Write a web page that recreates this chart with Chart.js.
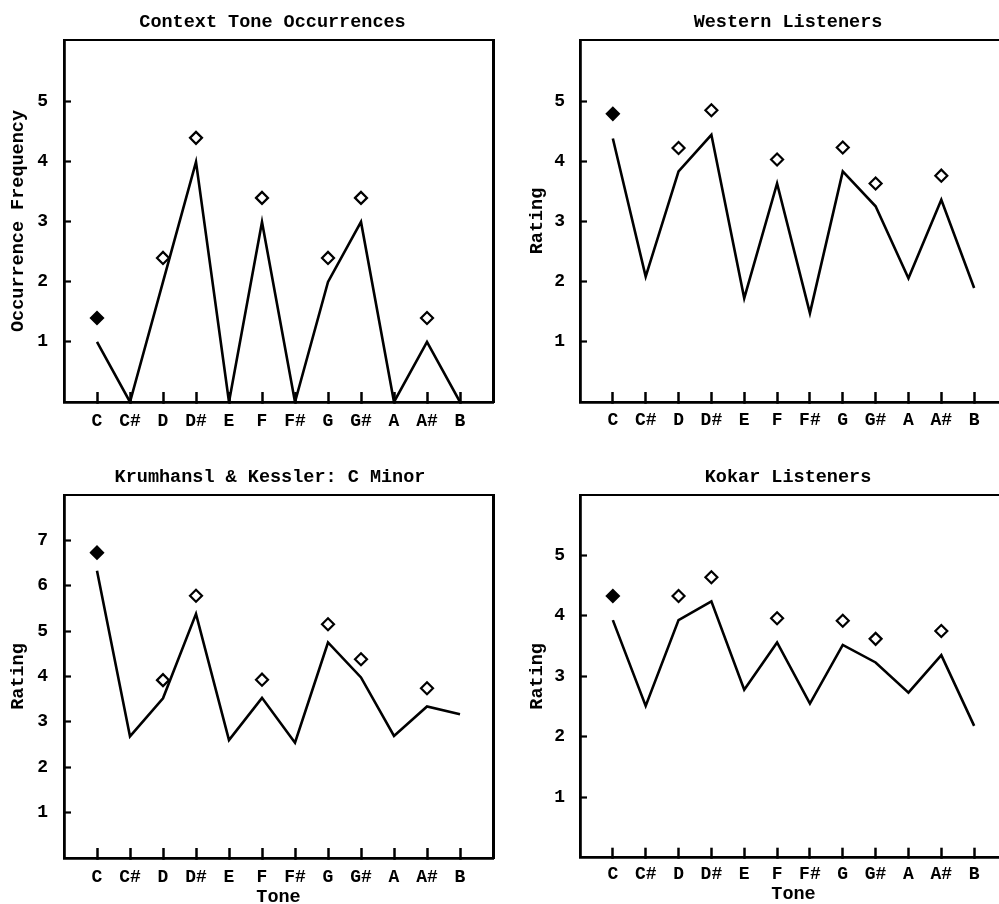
<!DOCTYPE html>
<html><head><meta charset="utf-8">
<script src="https://cdn.jsdelivr.net/npm/chart.js@4"></script>
<style>
html,body{margin:0;padding:0;background:#fff;overflow:hidden}
#wrap{position:relative;width:999px;height:904px;overflow:hidden;background:#fff}
canvas{position:absolute;display:block}
</style></head><body>
<div id="wrap">
<canvas id="c1" width="545" height="440" style="left:0;top:0"></canvas>
<canvas id="c2" width="576" height="440" style="left:500px;top:0"></canvas>
<canvas id="c3" width="540" height="460" style="left:0;top:455px"></canvas>
<canvas id="c4" width="576" height="460" style="left:500px;top:455px"></canvas>
</div>
<script>
// ---- data ----
const tones = ['C','C#','D','D#','E','F','F#','G','G#','A','A#','B'];

const occurrenceValues = [1, 0, 2, 4, 0, 3, 0, 2, 3, 0, 1, 0];
const occurrenceMarks  = [1.4, null, 2.4, 4.4, null, 3.4, null, 2.4, 3.4, null, 1.4, null];

const westernValues = [4.39, 2.09, 3.84, 4.45, 1.73, 3.64, 1.48, 3.84, 3.26, 2.06, 3.37, 1.90];
const westernMarks  = [4.80, null, 4.23, 4.86, null, 4.04, null, 4.24, 3.64, null, 3.77, null];

const kkMinorValues = [6.33, 2.68, 3.52, 5.38, 2.60, 3.53, 2.54, 4.75, 3.98, 2.69, 3.34, 3.17];
const kkMinorMarks  = [6.73, null, 3.92, 5.78, null, 3.93, null, 5.15, 4.38, null, 3.74, null];

const kokarValues = [3.93, 2.51, 3.93, 4.24, 2.78, 3.56, 2.55, 3.52, 3.23, 2.73, 3.35, 2.18];
const kokarMarks  = [4.33, null, 4.33, 4.64, null, 3.96, null, 3.92, 3.62, null, 3.75, null];

const yTicksSix   = [1, 2, 3, 4, 5];
const yTicksEight = [1, 2, 3, 4, 5, 6, 7];

// ---- styling ----
const FONT = '"Liberation Mono", "DejaVu Sans Mono", monospace';
const fnt = (size) => ({family: FONT, size: size, weight: 'bold', lineHeight: 1.2});

function makeChart(id, c) {
  const markPts = [];
  const markBg = [];
  c.marks.forEach((v, i) => {
    if (v !== null) { markPts.push({x: i, y: v}); markBg.push(i === 0 ? '#000' : '#fff'); }
  });
  const dummy = (pos, size, w) => ({
    type: 'linear', position: pos, display: true,
    afterFit: s => { if (pos === 'top' || pos === 'bottom') s.height = size; else s.width = size; },
    ticks: {display: false},
    grid: {display: true, drawOnChartArea: false, drawTicks: false},
    border: {display: true, color: '#000', width: w}
  });
  return new Chart(document.getElementById(id), {
    type: 'line',
    data: {
      datasets: [
        {
          data: c.values.map((v, i) => ({x: i, y: v})),
          borderColor: '#000', borderWidth: 2.6, pointRadius: 0, tension: 0, fill: false, order: 2
        },
        {
          data: markPts, showLine: false, pointStyle: 'rectRot', pointRadius: 6,
          pointBorderWidth: 2.2, pointBorderColor: '#000', pointBackgroundColor: markBg, order: 1
        }
      ]
    },
    options: {
      responsive: false, animation: false, events: [],
      layout: {padding: 0},
      plugins: {
        legend: {display: false}, tooltip: {enabled: false},
        title: {display: true, text: c.title, color: '#000', font: fnt(18.5), padding: {top: 11, bottom: 6.8}}
      },
      scales: {
        x: {
          type: 'linear', position: 'bottom', min: -1, max: 12,
          afterBuildTicks: s => { s.ticks = tones.map((t, i) => ({value: i})); },
          afterFit: s => { s.height = c.xh; },
          ticks: {callback: v => tones[v], color: '#000', font: fnt(18), padding: c.xpad, maxRotation: 0, autoSkip: false},
          grid: {drawOnChartArea: false, drawTicks: true, tickLength: -10, tickWidth: 2.5, tickColor: '#000'},
          border: {display: true, color: '#000', width: 2.8},
          title: c.xTitle ? {display: true, text: 'Tone', color: '#000', font: fnt(18.5), padding: {top: 0, bottom: c.xtpad}} : {display: false}
        },
        y: {
          type: 'linear', position: 'left', min: 0, max: c.ymax,
          afterBuildTicks: s => { s.ticks = c.yTicks.map(v => ({value: v})); },
          afterFit: s => { s.width = c.yw; },
          ticks: {color: '#000', font: fnt(18), padding: c.ypad},
          grid: {drawOnChartArea: false, drawTicks: true, tickLength: -7, tickWidth: 2.2, tickColor: '#000'},
          border: {display: true, color: '#000', width: 2.8},
          title: {display: true, text: c.yTitle, color: '#000', font: fnt(18.5), padding: {top: c.ytpad, bottom: 0}}
        },
        xTop: dummy('top', 0, 2),
        yRight: dummy('right', c.rw, 3)
      }
    }
  });
}

makeChart('c1', {title: 'Context Tone Occurrences', values: occurrenceValues, marks: occurrenceMarks,
  ymax: 6.03, yTicks: yTicksSix, yTitle: 'Occurrence Frequency', yw: 64, rw: 52, xh: 38, xpad: 18.6, ypad: 23, ytpad: 7.2, xTitle: false});
makeChart('c2', {title: 'Western Listeners', values: westernValues, marks: westernMarks,
  ymax: 6.03, yTicks: yTicksSix, yTitle: 'Rating', yw: 80, rw: 69, xh: 38, xpad: 17.5, ypad: 22, ytpad: 26.2, xTitle: false});
makeChart('c3', {title: 'Krumhansl & Kessler: C Minor', values: kkMinorValues, marks: kkMinorMarks,
  ymax: 8, yTicks: yTicksEight, yTitle: 'Rating', yw: 64, rw: 47, xh: 57, xpad: 18.2, ypad: 23, ytpad: 7.2, xTitle: true, xtpad: 6.2});
makeChart('c4', {title: 'Kokar Listeners', values: kokarValues, marks: kokarMarks,
  ymax: 6, yTicks: yTicksSix, yTitle: 'Rating', yw: 80, rw: 69, xh: 57.3, xpad: 15.5, ypad: 22, ytpad: 26.2, xTitle: true, xtpad: 9.2});
</script>
</body></html>
